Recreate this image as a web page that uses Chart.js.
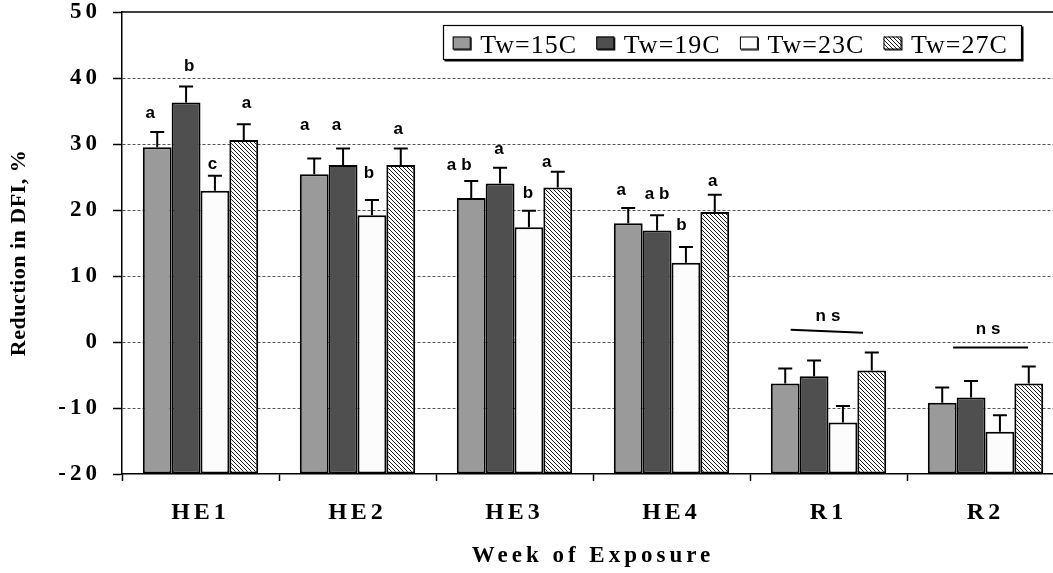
<!DOCTYPE html>
<html>
<head>
<meta charset="utf-8">
<script src="https://cdn.jsdelivr.net/npm/chart.js@4/dist/chart.umd.min.js"></script>
<style>
  html, body { margin: 0; padding: 0; background: #fff; }
  #wrap { width: 1053px; height: 573px; overflow: hidden; position: relative; }
  canvas { display: block; }
</style>
</head>
<body>
<div id="wrap"><canvas id="chart" width="1080" height="573"></canvas></div>
<script>
// Weeks of exposure on the category axis
const categories = ['HE1', 'HE2', 'HE3', 'HE4', 'R1', 'R2'];
const seriesNames = ['Tw=15C', 'Tw=19C', 'Tw=23C', 'Tw=27C'];

// Mean reduction in DFI (%) per water temperature
const tw15 = [29.5, 25.4, 21.8, 18.0, -6.3, -9.2];
const tw19 = [36.3, 26.8, 24.0, 16.9, -5.2, -8.4];
const tw23 = [22.9, 19.2, 17.4, 12.0, -12.2, -13.6];
const tw27 = [30.6, 26.8, 23.4, 19.7, -4.3, -6.3];

// Standard errors (upper whiskers)
const err15 = [2.3, 2.4, 2.6, 2.3, 2.3, 2.3];
const err19 = [2.4, 2.5, 2.4, 2.3, 2.4, 2.5];
const err23 = [2.3, 2.3, 2.5, 2.4, 2.5, 2.5];
const err27 = [2.4, 2.5, 2.4, 2.6, 2.7, 2.6];

// Significance letters within each week
const sig15 = ['a', 'a', 'ab', 'a', '', ''];
const sig19 = ['b', 'a', 'a', 'ab', '', ''];
const sig23 = ['c', 'b', 'b', 'b', '', ''];
const sig27 = ['a', 'a', 'a', 'a', '', ''];
const groupNote = ['', '', '', '', 'ns', 'ns'];

// Y axis range and tick step
const yMin = -20, yMax = 50, yStep = 10;

// ---- layout of the annotations (pixels) ----
const letterLift = [
  [13.7, 28.4, 11.3, 13.0],
  [15.3, 19.0, 13.3, 16.4],
  [7.0, 22.6, 12.3, 16.7],
  [16.7, 15.0, 4.3, 9.3]
];
const letterShift = [
  [-7, -9.5, -12, -7],
  [3, -6.7, -1, 0],
  [-2.5, -3, -1, -4.5],
  [2.7, -2.5, -11, -2]
];
const noteLayout = {
  4: { level: 1.85, from: -37.8, to: 34.5, tilt: 3, dx: -0.5, gap: 8.6 },
  5: { level: -0.83, from: -32.4, to: 42.6, tilt: 0, dx: 2.6, gap: 13 }
};

const SERIF = '"Liberation Serif", "Times New Roman", serif';
const SANS = '"Liberation Sans", Arial, sans-serif';

const canvas = document.getElementById('chart');
const ctx0 = canvas.getContext('2d');

function makeHatch() {
  const t = document.createElement('canvas');
  t.width = 4; t.height = 4;
  const g = t.getContext('2d');
  g.fillStyle = '#ffffff';
  g.fillRect(0, 0, 4, 4);
  g.strokeStyle = '#1a1a1a';
  g.lineWidth = 1;
  g.beginPath();
  g.moveTo(-1, -1); g.lineTo(5, 5);
  g.moveTo(-1, 3); g.lineTo(1, 5);
  g.moveTo(3, -1); g.lineTo(5, 1);
  g.stroke();
  return ctx0.createPattern(t, 'repeat');
}
const hatch = makeHatch();

const values = [tw15, tw19, tw23, tw27];
const errors = [err15, err19, err23, err27];
const letters = [sig15, sig19, sig23, sig27];
const fills = ['#9a9a9a', '#4f4f4f', '#fcfcfc', hatch];

const datasets = values.map((v, i) => ({
  label: seriesNames[i],
  data: v,
  base: yMin,
  backgroundColor: fills[i],
  borderColor: '#000',
  borderWidth: 2,
  borderSkipped: false,
  categoryPercentage: 0.735,
  barPercentage: 1.0
}));

const overlay = {
  id: 'overlay',
  beforeLayout(chart) { chart.ctx.letterSpacing = '4px'; },
  beforeDraw(chart) { chart.ctx.letterSpacing = '4px'; },
  afterDatasetsDraw(chart) {
    const ctx = chart.ctx;
    const ys = chart.scales.y;
    const xs = chart.scales.x;
    ctx.save();
    // upper error whiskers
    ctx.strokeStyle = '#000';
    ctx.lineWidth = 2;
    values.forEach((v, i) => {
      const meta = chart.getDatasetMeta(i);
      meta.data.forEach((bar, j) => {
        const top = ys.getPixelForValue(v[j] + errors[i][j]);
        ctx.beginPath();
        ctx.moveTo(bar.x, bar.y);
        ctx.lineTo(bar.x, top);
        ctx.moveTo(bar.x - 7, top);
        ctx.lineTo(bar.x + 7, top);
        ctx.stroke();
      });
    });
    // significance letters
    ctx.fillStyle = '#000';
    ctx.font = 'bold 17px ' + SANS;
    ctx.letterSpacing = '5px';
    ctx.textAlign = 'center';
    ctx.textBaseline = 'alphabetic';
    values.forEach((v, i) => {
      const meta = chart.getDatasetMeta(i);
      meta.data.forEach((bar, j) => {
        const s = letters[i][j];
        if (!s) return;
        const top = ys.getPixelForValue(v[j] + errors[i][j]);
        const lift = (letterLift[i] && letterLift[i][j] != null) ? letterLift[i][j] : 12;
        const dx = (letterShift[i] && letterShift[i][j] != null) ? letterShift[i][j] : 0;
        ctx.fillText(s, bar.x + dx + 2.5, top - lift);
      });
    });
    // "not significant" bars over a whole week
    groupNote.forEach((note, c) => {
      if (!note) return;
      const L = noteLayout[c];
      const xc = xs.getPixelForValue(c);
      const y0 = ys.getPixelForValue(L.level);
      ctx.lineWidth = 2;
      ctx.beginPath();
      ctx.moveTo(xc + L.from, y0);
      ctx.lineTo(xc + L.to, y0 + L.tilt);
      ctx.stroke();
      ctx.fillText(note, xc + L.dx + 2.5, y0 - L.gap);
    });
    ctx.restore();
  },
  afterDraw(chart) {
    const ctx = chart.ctx;
    const area = chart.chartArea;
    ctx.save();
    // top frame line
    ctx.strokeStyle = '#000';
    ctx.lineWidth = 1.5;
    ctx.beginPath();
    ctx.moveTo(area.left, area.top);
    ctx.lineTo(chart.width, area.top);
    ctx.stroke();

    // legend box with a small shadow
    const bx = 443, by = 25, bw = 579, bh = 35;
    ctx.fillStyle = '#000';
    ctx.fillRect(bx + 1.5, by + 1.5, bw, bh);
    ctx.fillStyle = '#fff';
    ctx.fillRect(bx, by, bw, bh);
    ctx.lineWidth = 1.2;
    ctx.strokeRect(bx + 0.5, by + 0.5, bw - 1, bh - 1);
    ctx.font = '26px ' + SERIF;
    ctx.letterSpacing = '1px';
    ctx.textAlign = 'left';
    ctx.textBaseline = 'alphabetic';
    chart.data.datasets.forEach((ds, i) => {
      const sx = 452.7 + i * 143.6;
      ctx.fillStyle = '#000';
      ctx.fillRect(sx + 1, 37.5, 18, 13);
      ctx.fillStyle = ds.backgroundColor;
      ctx.fillRect(sx, 36.5, 18, 13);
      ctx.lineWidth = 1;
      ctx.strokeStyle = '#000';
      ctx.strokeRect(sx + 0.5, 37, 17, 12);
      ctx.fillStyle = '#000';
      ctx.fillText(ds.label, sx + 27.5, 53.3);
    });

    // y axis title
    ctx.translate(19.5, 253);
    ctx.rotate(-Math.PI / 2);
    ctx.font = 'bold 22px ' + SERIF;
    ctx.letterSpacing = '0.5px';
    ctx.textAlign = 'center';
    ctx.textBaseline = 'middle';
    ctx.fillText('Reduction in DFI, %', 0, 0);
    ctx.restore();
    ctx.letterSpacing = '4px';
  }
};

new Chart(canvas, {
  type: 'bar',
  data: { labels: categories, datasets },
  options: {
    responsive: false,
    animation: false,
    devicePixelRatio: 1,
    layout: { padding: { top: 12, right: 16, left: 0, bottom: 0 } },
    plugins: { legend: { display: false }, tooltip: { enabled: false } },
    scales: {
      x: {
        offset: true,
        afterFit(s) { s.height = 99; },
        grid: {
          display: true,
          drawOnChartArea: false,
          drawTicks: true,
          tickLength: 7,
          tickColor: '#000',
          tickWidth: 1.5,
          tickBorderDash: [100, 0]
        },
        border: { display: true, color: '#000', width: 1.5 },
        ticks: {
          color: '#000',
          padding: 20,
          font: { family: SERIF, size: 24, weight: 'bold', lineHeight: 1 }
        },
        title: {
          display: true,
          text: 'Week of Exposure',
          color: '#000',
          padding: { top: 0, bottom: 3 },
          font: { family: SERIF, size: 23, weight: 'bold', lineHeight: 1.2 }
        }
      },
      y: {
        min: yMin,
        max: yMax,
        afterFit(s) { s.width = 122; s.paddingTop = 0; },
        ticks: {
          stepSize: yStep,
          color: '#000',
          padding: 12,
          font: { family: SERIF, size: 23, weight: 'bold', lineHeight: 1 }
        },
        grid: {
          color: c => (c.tick && (c.tick.value === yMax || c.tick.value === yMin)) ? 'rgba(0,0,0,0)' : '#555',
          lineWidth: 1,
          tickLength: 9,
          tickColor: '#000',
          tickWidth: 1.5,
          tickBorderDash: [100, 0]
        },
        border: { display: true, color: '#000', width: 1.5, dash: [3, 2] }
      }
    }
  },
  plugins: [overlay]
});
</script>
</body>
</html>
